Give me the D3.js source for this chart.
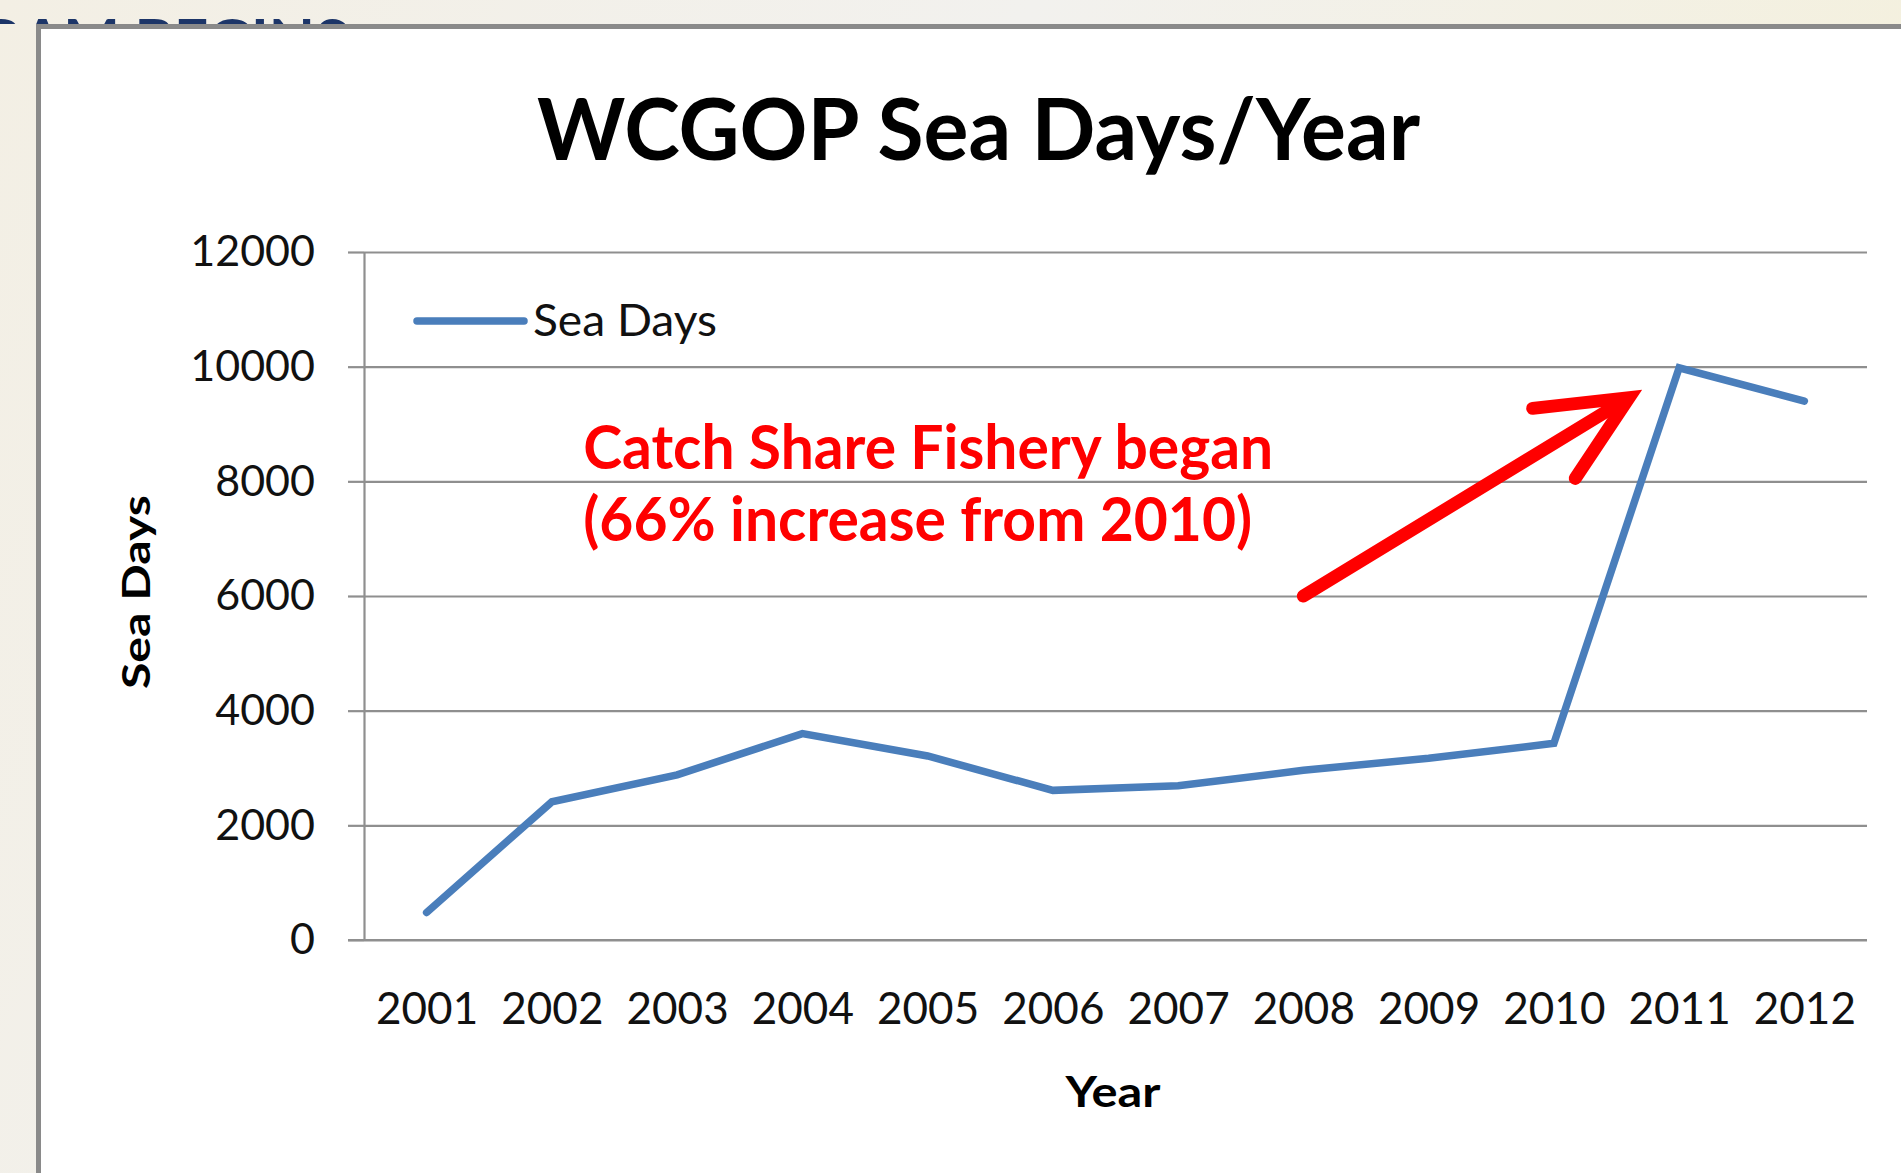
<!DOCTYPE html>
<html>
<head>
<meta charset="utf-8">
<title>WCGOP Sea Days/Year</title>
<style>
  html, body { margin: 0; padding: 0; background: #f1efe8; overflow: hidden; }
  svg { display: block; font-family: Lato, "Open Sans", sans-serif; }
</style>
</head>
<body>
<svg id="chart"></svg>
<script src="https://d3js.org/d3.v7.min.js"></script>
<script>
// values
const years = ['2001', '2002', '2003', '2004', '2005', '2006', '2007', '2008', '2009', '2010', '2011', '2012'];
const seaDays = [480, 2410, 2880, 3600, 3210, 2610, 2690, 2960, 3170, 3430, 9980, 9400];
const yTicks = [0, 2000, 4000, 6000, 8000, 10000, 12000];
const seriesName = 'Sea Days';
const noteLines = ['Catch Share Fishery began', '(66% increase from 2010)'];

const W = 1901, H = 1173;
const margin = {top: 252, left: 364};
const width = 1503, height = 688;

const svg = d3.select('#chart').attr('width', W).attr('height', H);

// slide background behind the chart frame
const defs = svg.append('defs');
const bg = defs.append('linearGradient').attr('id', 'bg').attr('x1', 0).attr('x2', 1).attr('y1', 0).attr('y2', 0.3);
bg.append('stop').attr('offset', 0).attr('stop-color', '#f3efe4');
bg.append('stop').attr('offset', 0.5).attr('stop-color', '#f2f1ee');
bg.append('stop').attr('offset', 1).attr('stop-color', '#f4f0dc');
svg.append('rect').attr('width', W).attr('height', H).attr('fill', 'url(#bg)');

defs.append('clipPath').attr('id', 'topstrip')
  .append('rect').attr('x', 0).attr('y', 0).attr('width', W).attr('height', 24);

// slide heading mostly hidden behind the chart picture
const heading = svg.append('g').attr('clip-path', 'url(#topstrip)');
heading.append('text').attr('x', 348).attr('y', 62).attr('text-anchor', 'end')
  .style('font-size', '60px').style('font-weight', 700).style('fill', '#1c3568')
  .text('PROGRAM BEGINS');
heading.append('text').attr('x', 140).attr('y', -6).style('font-size', '40px').style('fill', '#1c3568').text('(');
heading.append('text').attr('x', 272).attr('y', -6).style('font-size', '40px').style('fill', '#1c3568').text(')');

// frame
svg.append('rect').attr('x', 38.5).attr('y', 26.5).attr('width', 1900).attr('height', 1200)
  .attr('fill', '#fff').attr('stroke', '#8a8a8a').attr('stroke-width', 5);

const chart = svg.append('g').attr('transform', `translate(${margin.left},${margin.top})`);

const x = d3.scalePoint().domain(years).range([0, width]).padding(0.5);
const y = d3.scaleLinear().domain([0, 12000]).range([height, 0]);
const xi = d3.scaleLinear().domain([0, years.length - 1]).range([x(years[0]), x(years[years.length - 1])]);

// gridlines
chart.append('g')
  .call(d3.axisLeft(y).tickValues(yTicks).tickSize(-width).tickFormat(''))
  .call(g => g.select('.domain').remove())
  .call(g => g.selectAll('line').attr('stroke', '#8f8f8f').attr('stroke-width', 2.2));

// y axis
chart.append('g')
  .call(d3.axisLeft(y).tickValues(yTicks).tickFormat(d3.format('d')).tickSize(16).tickSizeOuter(0).tickPadding(33))
  .call(g => g.select('.domain').attr('stroke', '#8f8f8f').attr('stroke-width', 2.2))
  .call(g => g.selectAll('line').attr('stroke', '#8f8f8f').attr('stroke-width', 2.2))
  .call(g => g.selectAll('text').style('font-size', '43px').style('font-family', 'Lato').attr('fill', '#111'));

// x axis
chart.append('g')
  .attr('transform', `translate(0,${height})`)
  .call(d3.axisBottom(x).tickSize(0).tickPadding(53))
  .call(g => g.select('.domain').remove())
  .call(g => g.selectAll('text').style('font-size', '44px').style('font-family', 'Lato').attr('fill', '#111'));

chart.append('line').attr('x1', -16).attr('x2', width).attr('y1', height).attr('y2', height)
  .attr('stroke', '#8f8f8f').attr('stroke-width', 2.2);

// series
const line = d3.line().x((d, i) => x(years[i])).y(d => y(d));
chart.append('path').datum(seaDays)
  .attr('d', line)
  .attr('fill', 'none')
  .attr('stroke', '#4a7ebb')
  .attr('stroke-width', 7.5)
  .attr('stroke-linecap', 'round')
  .attr('stroke-linejoin', 'miter');

// legend
svg.append('line').attr('x1', 417).attr('x2', 524).attr('y1', 321).attr('y2', 321)
  .attr('stroke', '#4a7ebb').attr('stroke-width', 7.5).attr('stroke-linecap', 'round');
svg.append('text').attr('x', 533).attr('y', 336)
  .attr('textLength', 184).attr('lengthAdjust', 'spacingAndGlyphs')
  .style('font-size', '44px').attr('fill', '#111').text(seriesName);

// title
svg.append('text').attr('x', 537).attr('y', 160)
  .attr('textLength', 883).attr('lengthAdjust', 'spacingAndGlyphs')
  .style('font-size', '87px').style('font-weight', 700).attr('fill', '#000')
  .text('WCGOP Sea Days/Year');

// axis titles
svg.append('text')
  .attr('transform', 'translate(150,592) rotate(-90)')
  .attr('text-anchor', 'middle')
  .attr('textLength', 194).attr('lengthAdjust', 'spacingAndGlyphs')
  .style('font-size', '38px').style('font-weight', 700).attr('fill', '#000')
  .text('Sea Days');

svg.append('text')
  .attr('x', 1113).attr('y', 1107).attr('text-anchor', 'middle')
  .attr('textLength', 95).attr('lengthAdjust', 'spacingAndGlyphs')
  .style('font-size', '42px').style('font-weight', 700).attr('fill', '#000')
  .text('Year');

// annotation
const note = chart.append('text').attr('x', xi(1.25)).attr('y', y(8220))
  .style('font-size', '61px').style('font-weight', 700).attr('fill', '#ff0000');
note.append('tspan').attr('x', xi(1.25)).attr('textLength', 690).attr('lengthAdjust', 'spacingAndGlyphs').text(noteLines[0]);
note.append('tspan').attr('x', xi(1.25)).attr('dy', 72).attr('textLength', 669).attr('lengthAdjust', 'spacingAndGlyphs').text(noteLines[1]);

// arrow from the text toward the 2011 jump
const tail = [xi(7), y(6000)];
const tip = [xi(9.6), y(9460)];
const ang = Math.atan2(tail[1] - tip[1], tail[0] - tip[0]);
const arm = 97, spread = 25 * Math.PI / 180;
const a1 = [tip[0] + arm * Math.cos(ang + spread), tip[1] + arm * Math.sin(ang + spread)];
const a2 = [tip[0] + arm * Math.cos(ang - spread), tip[1] + arm * Math.sin(ang - spread)];
const shaftEnd = [tip[0] + 18 * Math.cos(ang), tip[1] + 18 * Math.sin(ang)];

chart.append('path')
  .attr('d', d3.line()([tail, shaftEnd]))
  .attr('fill', 'none').attr('stroke', '#ff0000').attr('stroke-width', 13).attr('stroke-linecap', 'round');
chart.append('path')
  .attr('d', d3.line()([a1, tip, a2]))
  .attr('fill', 'none').attr('stroke', '#ff0000').attr('stroke-width', 13)
  .attr('stroke-linecap', 'round').attr('stroke-linejoin', 'miter').attr('stroke-miterlimit', 10);
</script>
</body>
</html>
